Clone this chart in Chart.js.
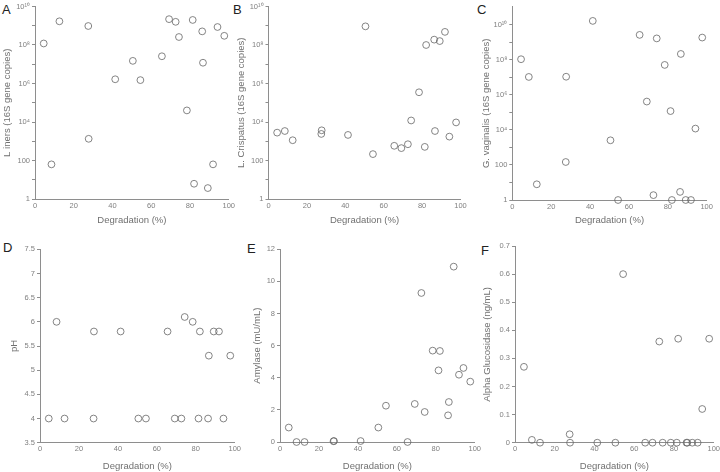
<!DOCTYPE html>
<html>
<head>
<meta charset="utf-8">
<script src="https://cdn.jsdelivr.net/npm/chart.js@4.4.1/dist/chart.umd.min.js"></script>
<style>
  html, body { margin: 0; padding: 0; background: #fff; overflow: hidden; }
  body { width: 720px; height: 472px; position: relative; }
  canvas { position: absolute; }
  .tag { position: absolute; font-family: 'Liberation Sans', Arial, sans-serif; font-size: 13px; line-height: 1; color: #222; }
</style>
</head>
<body>
<div class="tag" style="left:2px;top:3px">A</div>
<div class="tag" style="left:233px;top:3px">B</div>
<div class="tag" style="left:477px;top:3px">C</div>
<div class="tag" style="left:3px;top:241px">D</div>
<div class="tag" style="left:247px;top:242px">E</div>
<div class="tag" style="left:481px;top:244px">F</div>
<canvas id="chartA"></canvas>
<canvas id="chartB"></canvas>
<canvas id="chartC"></canvas>
<canvas id="chartD"></canvas>
<canvas id="chartE"></canvas>
<canvas id="chartF"></canvas>
<script>
// ---- Data (same samples in every panel, ordered by degradation) ----
const degradation = [4.5, 8.5, 12.6, 27.5, 27.7, 41.4, 50.5, 54.4, 65.5, 69.2, 72.6, 74.3, 78.4, 81.4, 82.1, 86.3, 86.7, 89.2, 91.9, 94.2, 97.7];
const lIners = [1.2e8, 63, 1.7e9, 9.7e8, 1340, 1.66e6, 1.5e7, 1.5e6, 2.6e7, 2.2e9, 1.6e9, 2.6e8, 4e4, 2e9, 6.2, 5.1e8, 1.2e7, 3.7, 63, 8.6e8, 3e8];
const lCrispatus = [2800, 3400, 1130, 2400, 3700, 2130, 9.3e8, 215, 580, 440, 700, 1.2e4, 3.5e5, 510, 1.0e8, 1.9e8, 3400, 1.6e8, 4.8e8, 1740, 9500];
const gVaginalis = [1.1e8, 1.07e7, 7.9, 148, 1.1e7, 1.7e10, 2570, 1, 2.7e9, 4.2e5, 1.9, 1.7e9, 5.2e7, 1.2e5, 1, 2.9, 2.2e8, 1, 1, 1.2e4, 1.9e9];
const ph = [4.0, 6.0, 4.0, 4.0, 5.8, 5.8, 4.0, 4.0, 5.8, 4.0, 4.0, 6.1, 6.0, 4.0, 5.8, 4.0, 5.3, 5.8, 5.8, 4.0, 5.3];
const amylase = [0.9, 0.0, 0.0, 0.05, 0.06, 0.06, 0.9, 2.26, 0.0, 2.37, 9.28, 1.87, 5.69, 4.46, 5.67, 1.66, 2.49, 10.92, 4.19, 4.61, 3.76];
const alphaGlucosidase = [0.27, 0.01, 0, 0.03, 0, 0, 0, 0.60, 0, 0, 0.36, 0, 0, 0, 0.37, 0, 0, 0, 0, 0.12, 0.37];

// ---- Tick labels ----
const degradationTicks = [0, 20, 40, 60, 80, 100];
const logTickLabels = ['1', '', '100', '', '10⁴', '', '10⁶', '', '10⁸', '', '10¹⁰'];
const phTicks = [3.5, 4, 4.5, 5, 5.5, 6, 6.5, 7, 7.5];
const amylaseTicks = [0, 2, 4, 6, 8, 10, 12];
const glucosidaseTicks = [0, 0.1, 0.2, 0.3, 0.4, 0.5, 0.6, 0.7];

// ---- Panel geometry (page pixels) ----
const boxes = {
    A: { yTitleX: 7,     left: 35,    right: 229,   top: 5,     bottom: 199,   xTitleY: 220.5, rowTop: 0 },
    B: { yTitleX: 241,   left: 268.5, right: 460.5, top: 5,     bottom: 199,   xTitleY: 220.5, rowTop: 0 },
    C: { yTitleX: 486,   left: 512.3, right: 706.7, top: 6.7,   bottom: 200,   xTitleY: 220.5, rowTop: 0 },
    D: { yTitleX: 14,    left: 40,    right: 235,   top: 249.3, bottom: 442.7, xTitleY: 466,   rowTop: 236 },
    E: { yTitleX: 257.5, left: 280,   right: 475,   top: 249.3, bottom: 442,   xTitleY: 466,   rowTop: 236 },
    F: { yTitleX: 487.5, left: 515,   right: 714,   top: 246,   bottom: 442.7, xTitleY: 466,   rowTop: 236 }
};

const FONT = "'Liberation Sans', Arial, sans-serif";
const AXIS = '#8e8e8e';
const TICK_TEXT = '#808080';
const TITLE_TEXT = '#707070';
const TITLE_SIZE = 9.5;
const TICK_SIZE = 7.5;

function logAxis(max) {
    return {
        type: 'logarithmic', min: 1, max: max,
        ticksList: logTickLabels.map((_, i) => Math.pow(10, i)),
        label: (v, i) => logTickLabels[i]
    };
}

function linearAxis(ticks) {
    return {
        type: 'linear', min: ticks[0], max: ticks[ticks.length - 1],
        ticksList: ticks,
        label: v => String(v)
    };
}

function makePanel(id, box, yAxis, values, yTitle) {
    const canvas = document.getElementById(id);
    const half = TITLE_SIZE * 1.2 / 2;
    const left = Math.floor(box.yTitleX - half);
    const bottom = Math.ceil(box.xTitleY + half);
    const width = Math.ceil(box.right + 8) - left;
    const height = bottom - box.rowTop;

    canvas.width = width;
    canvas.height = height;
    canvas.style.left = left + 'px';
    canvas.style.top = box.rowTop + 'px';

    const yWidth = box.left - left;
    const xHeight = bottom - box.bottom;

    new Chart(canvas, {
        type: 'scatter',
        data: {
            datasets: [{
                data: degradation.map((x, i) => ({ x: x, y: values[i] })),
                pointStyle: 'circle',
                pointRadius: 3.4,
                borderWidth: 0.8,
                borderColor: '#666',
                backgroundColor: 'rgba(0,0,0,0)',
                clip: false
            }]
        },
        options: {
            responsive: false,
            animation: false,
            events: [],
            layout: {
                padding: { left: 0, right: width - (box.right - left), top: box.top - box.rowTop, bottom: 0 }
            },
            plugins: { legend: { display: false }, tooltip: { enabled: false } },
            scales: {
                x: {
                    type: 'linear', min: 0, max: 100,
                    afterBuildTicks: s => { s.ticks = degradationTicks.map(v => ({ value: v })); },
                    afterFit: s => { s.height = xHeight; },
                    grid: { display: true, drawOnChartArea: false, drawTicks: false },
                    border: { display: true, color: AXIS, width: 1 },
                    ticks: {
                        padding: 2, color: TICK_TEXT, maxRotation: 0, autoSkip: false,
                        font: { family: FONT, size: TICK_SIZE },
                        callback: v => String(v)
                    },
                    title: {
                        display: true, text: 'Degradation (%)', color: TITLE_TEXT,
                        font: { family: FONT, size: TITLE_SIZE },
                        padding: { top: 0, bottom: bottom - half - box.xTitleY }
                    }
                },
                y: {
                    type: yAxis.type, min: yAxis.min, max: yAxis.max,
                    afterBuildTicks: s => { s.ticks = yAxis.ticksList.map(v => ({ value: v })); },
                    afterFit: s => { s.width = yWidth; },
                    grid: { display: true, drawOnChartArea: false, drawTicks: true, tickLength: 3, color: AXIS, lineWidth: 1 },
                    border: { display: true, color: AXIS, width: 1 },
                    ticks: {
                        padding: 2, color: TICK_TEXT, autoSkip: false,
                        font: { family: FONT, size: TICK_SIZE },
                        callback: yAxis.label
                    },
                    title: {
                        display: true, text: yTitle, color: TITLE_TEXT,
                        font: { family: FONT, size: TITLE_SIZE },
                        padding: { top: box.yTitleX - half - left, bottom: 0 }
                    }
                }
            }
        }
    });
}

makePanel('chartA', boxes.A, logAxis(1e10), lIners, 'L iners (16S gene copies)');
makePanel('chartB', boxes.B, logAxis(1e10), lCrispatus, 'L. Crispatus (16S gene copies)');
makePanel('chartC', boxes.C, logAxis(1.1e11), gVaginalis, 'G. vaginalis (16S gene copies)');
makePanel('chartD', boxes.D, linearAxis(phTicks), ph, 'pH');
makePanel('chartE', boxes.E, linearAxis(amylaseTicks), amylase, 'Amylase (mU/mL)');
makePanel('chartF', boxes.F, linearAxis(glucosidaseTicks), alphaGlucosidase, 'Alpha Glucosidase (ng/mL)');
</script>
</body>
</html>
